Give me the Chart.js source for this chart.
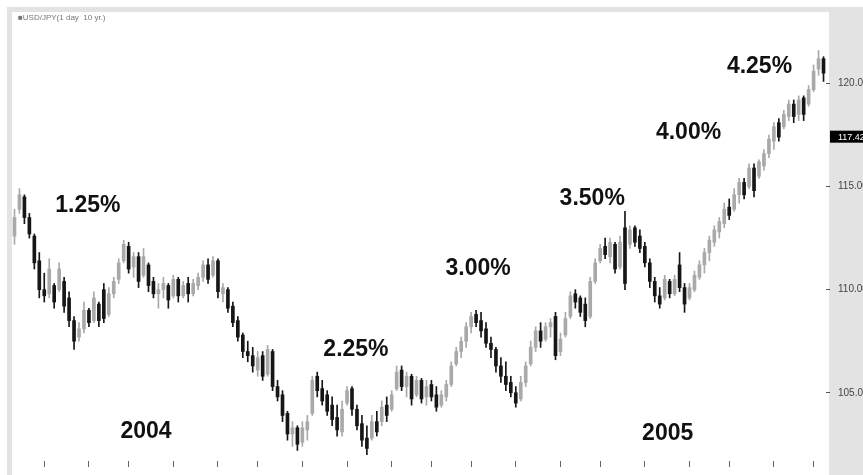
<!DOCTYPE html>
<html>
<head>
<meta charset="utf-8">
<script src="https://cdn.jsdelivr.net/npm/chart.js@4.4.0/dist/chart.umd.min.js"></script>
<style>
  html, body { margin: 0; padding: 0; background: #fff; }
  #wrap { width: 863px; height: 475px; }
</style>
</head>
<body>
<div id="wrap"><canvas id="fx" width="863" height="475"></canvas></div>
<script>
// USD/JPY daily candles
var opens = [
  112.6,113.9,114.5,113.5,112.6,111.4,110.0,109.8,110.2,110.0,
  110.4,109.6,108.5,107.7,108.1,109.0,108.5,109.3,110.0,108.8,
  109.8,110.5,111.4,112.1,111.1,111.6,110.7,111.2,110.4,109.8,
  110.0,110.2,109.7,110.5,109.7,110.3,109.8,110.2,110.6,111.2,
  110.7,111.4,109.8,110.0,109.2,108.5,107.8,107.0,106.8,106.1,
  106.8,105.9,107.0,105.3,104.9,104.0,103.0,103.3,102.6,103.2,
  104.0,105.8,105.2,104.9,104.4,103.8,103.1,104.5,105.2,104.2,
  103.5,102.8,102.8,103.6,103.6,104.4,104.2,105.2,106.1,105.3,
  105.8,104.9,105.6,104.8,105.4,104.9,104.4,104.8,105.4,106.4,
  107.0,107.5,108.2,108.8,108.5,108.1,107.4,107.1,106.3,105.8,
  105.5,105.0,104.7,105.5,106.4,107.2,108.0,107.6,108.2,108.7,
  107.0,107.8,108.7,109.8,109.6,109.3,108.7,110.4,111.4,112.1,
  111.6,112.2,111.1,113.0,112.2,113.0,112.6,112.1,111.3,110.4,
  109.7,109.6,110.4,109.8,111.2,110.1,109.6,110.0,110.6,111.2,
  111.8,112.3,112.8,113.2,114.0,113.9,114.6,115.2,115.0,115.9,
  115.5,116.0,116.6,117.2,118.1,117.9,118.4,119.0,118.5,119.3,
  119.0,119.7,120.7,121.2
];
var highs = [
  113.9,114.9,114.6,113.7,112.7,111.8,110.8,111.5,110.3,111.3,
  110.6,109.9,108.7,108.4,109.4,109.1,109.9,109.4,110.3,110.1,
  110.6,111.5,112.4,112.3,111.8,111.8,112.0,111.3,110.6,110.3,
  110.6,110.3,110.7,110.6,110.4,110.6,110.5,110.8,111.4,111.5,
  111.6,111.5,110.3,110.1,109.4,108.7,107.9,107.5,107.2,107.0,
  107.0,107.3,107.1,105.6,105.1,104.1,103.6,103.4,103.6,103.9,
  105.8,106.0,105.6,105.1,104.8,104.4,104.6,105.3,105.3,104.4,
  103.9,103.4,103.9,104.1,104.6,104.8,105.1,106.3,106.3,106.0,
  105.9,105.8,105.7,105.6,105.6,105.3,105.1,105.6,106.5,107.2,
  107.7,108.4,108.9,109.0,108.9,108.4,107.7,107.2,106.7,106.5,
  105.8,105.3,105.8,106.5,107.5,108.2,108.4,108.4,108.6,108.9,
  107.9,108.9,109.9,110.0,109.7,109.6,110.6,111.5,112.2,112.5,
  112.5,112.3,112.6,113.8,113.1,113.1,112.9,112.3,111.5,110.6,
  110.1,110.7,110.5,110.7,111.8,110.3,110.3,110.9,111.4,112.0,
  112.6,113.1,113.5,114.2,114.4,114.9,115.4,115.4,116.1,116.1,
  116.3,116.8,117.5,118.1,118.3,118.7,119.2,119.2,119.4,119.4,
  119.9,120.9,121.6,121.3
];
var lows = [
  112.2,113.7,113.2,112.5,111.0,109.6,109.4,109.6,109.1,109.9,
  108.9,108.2,107.1,107.5,107.9,108.2,108.4,108.2,108.4,108.7,
  109.6,110.3,111.3,110.8,110.6,110.1,110.6,109.9,109.6,109.1,
  109.6,109.1,109.6,109.4,109.6,109.4,109.7,110.0,110.4,110.3,
  110.6,109.6,109.4,108.9,108.2,107.5,106.7,106.5,106.0,105.8,
  105.6,105.8,105.1,104.6,103.6,102.7,102.4,102.2,102.4,102.7,
  103.9,104.8,104.4,103.9,103.4,102.9,102.9,104.4,103.9,103.2,
  102.4,102.0,102.7,102.9,103.4,103.6,104.1,105.1,105.1,104.8,
  104.4,104.8,104.5,104.4,104.6,104.1,104.3,104.6,105.3,106.3,
  106.7,107.2,107.9,108.2,107.7,107.2,106.7,106.0,105.5,105.1,
  104.8,104.3,104.6,105.3,106.3,107.0,107.2,107.5,107.7,106.6,
  106.8,107.7,108.6,109.1,108.7,108.2,108.6,110.3,111.3,111.5,
  111.3,110.8,111.0,110.0,112.0,112.1,111.8,111.1,110.1,109.4,
  109.1,109.5,109.6,109.7,109.9,108.9,109.5,109.9,110.5,110.8,
  111.4,112.1,112.5,113.0,113.4,113.8,114.2,114.4,114.9,114.5,
  115.4,115.8,116.4,116.8,117.2,117.8,118.2,118.1,118.2,118.2,
  118.9,119.6,120.4,120.1
];
var closes = [
  113.5,114.6,113.5,112.7,111.3,110.0,109.7,111.0,109.4,111.0,
  109.2,108.5,107.5,108.1,109.0,108.4,109.6,108.5,108.6,109.8,
  110.4,111.3,112.2,111.0,111.6,110.4,111.6,110.2,109.8,110.0,
  110.3,109.5,110.5,109.7,110.2,109.8,110.3,110.6,111.2,110.5,
  111.4,109.9,110.1,109.1,108.4,107.7,107.0,106.8,106.3,106.7,
  105.8,107.1,105.3,104.8,103.9,103.0,103.3,102.5,103.3,103.6,
  105.6,105.1,104.6,104.1,103.7,103.2,104.2,105.1,104.2,103.4,
  102.7,102.3,103.6,103.1,104.3,103.9,104.9,106.0,105.3,105.8,
  104.7,105.6,104.7,105.3,104.8,104.3,104.9,105.4,106.3,107.0,
  107.5,108.2,108.7,108.4,108.0,107.4,107.1,106.3,105.8,105.4,
  105.0,104.5,105.5,106.3,107.2,108.0,107.5,108.2,108.4,106.8,
  107.6,108.6,109.7,109.4,108.9,108.5,110.4,111.3,112.0,111.7,
  112.3,111.0,112.3,110.3,112.9,112.3,112.0,111.3,110.4,109.7,
  109.3,110.5,109.8,110.5,110.1,109.3,110.1,110.7,111.2,111.8,
  112.4,112.9,113.3,113.9,113.6,114.6,115.2,114.6,115.9,114.8,
  116.2,116.6,117.3,117.9,117.4,118.5,119.0,118.4,119.2,118.5,
  119.7,120.6,121.2,120.5
];

// price axis ticks and the bars that carry a time tick
var priceTicks = [105, 110, 115, 120];
var tickBars = [6, 15, 23, 32, 41, 49, 58, 67, 76, 84, 92, 101, 110, 118, 127, 136, 144, 153, 161];
var lastPrice = 117.42;

// rate notes and year labels, placed at (bar, price)
var noteTexts = ['1.25%', '2.25%', '3.00%', '3.50%', '4.00%', '4.25%', '2004', '2005'];
var noteBars = [14.8, 68.8, 93.4, 116.4, 135.8, 150.1, 26.5, 131.6];
var noteLevels = [114.07, 107.09, 111.04, 114.4, 117.6, 120.83, 103.09, 103.04];

var upColor = '#a9a9a9';
var downColor = '#161616';
var labels = opens.map(function(o, i) { return String(i + 1); });
var colors = opens.map(function(o, i) { return closes[i] >= o ? upColor : downColor; });
var fontFam = '"Liberation Sans", Arial, sans-serif';

var framePlugin = {
  id: 'frame',
  beforeDraw: function(chart) {
    var ctx = chart.ctx, a = chart.chartArea;
    ctx.save();
    ctx.fillStyle = '#fff';
    ctx.fillRect(0, 0, chart.width, chart.height);
    ctx.fillStyle = '#e3e3e3';
    ctx.fillRect(7, 7, chart.width - 7, 5);
    ctx.fillRect(7, 7, 5, chart.height - 7);
    ctx.fillRect(a.right + 3, 7, chart.width - a.right - 3, chart.height - 7);
    ctx.restore();
  },
  afterDraw: function(chart) {
    var ctx = chart.ctx, a = chart.chartArea;
    var xs = chart.scales.x, ys = chart.scales.y;
    ctx.save();
    // title
    ctx.font = '8px ' + fontFam;
    ctx.fillStyle = '#777';
    ctx.textAlign = 'left';
    ctx.textBaseline = 'middle';
    ctx.fillText('\u25A0USD/JPY(1 day  10 yr.)', 18, 18);
    // notes
    ctx.font = 'bold 23px ' + fontFam;
    ctx.fillStyle = '#111';
    ctx.textAlign = 'center';
    for (var i = 0; i < noteTexts.length; i++) {
      ctx.fillText(noteTexts[i], xs.getPixelForValue(noteBars[i]), ys.getPixelForValue(noteLevels[i]));
    }
    // last price box
    var py = ys.getPixelForValue(lastPrice);
    ctx.fillStyle = '#000';
    ctx.fillRect(a.right + 4, py - 6, chart.width - a.right - 4, 12);
    ctx.fillStyle = '#fff';
    ctx.font = '9px ' + fontFam;
    ctx.textAlign = 'left';
    ctx.fillText(lastPrice.toFixed(2), a.right + 12, py + 0.5);
    ctx.restore();
  }
};

new Chart(document.getElementById('fx'), {
  type: 'bar',
  data: {
    labels: labels,
    datasets: [{
      label: 'range',
      data: highs.map(function(h, i) { return [lows[i], h]; }),
      backgroundColor: colors,
      barThickness: 1,
      grouped: false,
      order: 2
    }, {
      label: 'body',
      data: opens.map(function(o, i) { return [o, closes[i]]; }),
      backgroundColor: colors,
      barThickness: 3,
      minBarLength: 1,
      grouped: false,
      order: 1
    }]
  },
  options: {
    responsive: false,
    animation: false,
    layout: { padding: { left: 12, top: 13, right: 0, bottom: 2 } },
    plugins: { legend: { display: false }, tooltip: { enabled: false } },
    scales: {
      x: {
        offset: true,
        border: { display: false },
        grid: { display: true, offset: false, drawOnChartArea: false, drawTicks: true, tickLength: 6, color: '#666' },
        ticks: { display: false, autoSkip: false },
        afterBuildTicks: function(scale) {
          scale.ticks = tickBars.map(function(b) { return { value: b }; });
        },
        afterFit: function(scale) { scale.height = 8; }
      },
      y: {
        position: 'right',
        min: 101.69,
        max: 123.37,
        border: { display: false },
        grid: { drawOnChartArea: false, drawTicks: true, tickLength: 4, color: '#555' },
        ticks: {
          padding: 8,
          color: '#444',
          font: { family: fontFam, size: 10 },
          callback: function(v) { return v.toFixed(2); }
        },
        afterBuildTicks: function(scale) {
          scale.ticks = priceTicks.map(function(v) { return { value: v }; });
        },
        afterFit: function(scale) { scale.width = 37; }
      }
    }
  },
  plugins: [framePlugin]
});
</script>
</body>
</html>
